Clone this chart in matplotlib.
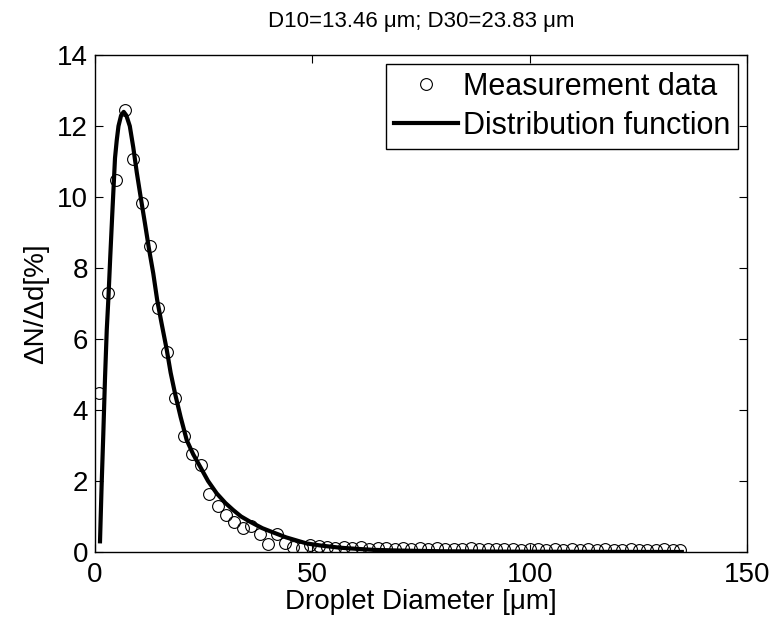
import matplotlib
matplotlib.use("Agg")
import matplotlib.pyplot as plt

plt.rcParams['font.family'] = ['Liberation Sans', 'DejaVu Sans']

meas_d = [1.0, 3.0, 4.9, 6.9, 8.8, 10.7, 12.7, 14.6, 16.6, 18.5,
          20.4, 22.4, 24.3, 26.2, 28.2, 30.1, 32.0, 34.0, 35.9, 37.9,
          39.8, 41.8, 43.7, 45.6, 47.6, 49.5, 51.5, 53.4, 55.3, 57.3,
          59.2, 61.2, 63.1, 65.0, 67.0, 68.9, 70.9, 72.8, 74.7, 76.7,
          78.6, 80.6, 82.5, 84.4, 86.4, 88.3, 90.3, 92.2, 94.1, 96.1,
          98.0, 100.0, 101.9, 103.8, 105.8, 107.7, 109.7, 111.6, 113.5, 115.5,
          117.4, 119.4, 121.3, 123.2, 125.2, 127.1, 129.1, 131.0, 132.9, 134.6]
meas_n = [4.47, 7.30, 10.48, 12.45, 11.07, 9.82, 8.63, 6.86, 5.64, 4.33,
          3.28, 2.76, 2.45, 1.64, 1.29, 1.03, 0.85, 0.68, 0.73, 0.52,
          0.22, 0.52, 0.24, 0.15, 0.12, 0.20, 0.17, 0.14, 0.12, 0.15,
          0.10, 0.13, 0.09, 0.12, 0.10, 0.08, 0.11, 0.09, 0.10, 0.08,
          0.10, 0.07, 0.09, 0.08, 0.10, 0.07, 0.08, 0.09, 0.07, 0.08,
          0.06, 0.08, 0.07, 0.06, 0.08, 0.06, 0.07, 0.06, 0.07, 0.05,
          0.07, 0.06, 0.05, 0.07, 0.06, 0.05, 0.06, 0.07, 0.05, 0.05]

# fitted distribution function
fit_d = [1.15, 1.5, 1.9, 2.3, 2.7, 3.1, 3.5, 4.0, 4.6, 5.0,
         5.4, 6.0, 6.6, 7.2, 8.0, 8.8, 9.6, 10.5, 11.5, 12.4,
         13.4, 14.3, 15.3, 16.5, 17.4, 18.4, 19.7, 21.1, 22.6, 24.2,
         26.0, 28.0, 30.0, 31.8, 33.6, 35.7, 38.5, 41.0, 44.0, 48.7,
         52.0, 56.4, 60.0, 64.0, 70.0, 80.0, 95.0, 110.0, 135.0]
fit_n = [0.30, 1.8, 3.3, 4.9, 6.25, 7.2, 8.3, 9.6, 11.1, 11.6,
         12.0, 12.3, 12.4, 12.3, 12.0, 11.4, 10.7, 10.0, 9.25, 8.55,
         7.85, 7.1, 6.45, 5.7, 5.05, 4.47, 3.8, 3.15, 2.75, 2.4,
         2.0, 1.65, 1.38, 1.18, 1.0, 0.85, 0.67, 0.55, 0.41, 0.24,
         0.18, 0.12, 0.09, 0.06, 0.04, 0.02, 0.01, 0.005, 0.0]

fig = plt.figure(figsize=(7.75, 6.33), dpi=100)
ax = fig.add_axes([0.1226, 0.128, 0.8413, 0.785])

ax.plot(meas_d, meas_n, 'o', mfc='none', mec='black', ms=8.5, mew=0.8,
        label='Measurement data')
ax.plot(fit_d, fit_n, '-', color='black', lw=3, label='Distribution function')

ax.set_xlim(0, 150)
ax.set_ylim(0, 14)
ax.set_xticks([0, 50, 100, 150])
ax.set_yticks(range(0, 15, 2))
ax.tick_params(direction='in', top=True, right=True, labelsize=20, length=6)
ax.tick_params(axis='x', pad=7)
ax.tick_params(axis='y', pad=5)
for s in ax.spines.values():
    s.set_linewidth(1.0)

ax.set_xlabel('Droplet Diameter [μm]', fontsize=20, labelpad=1)
ax.set_ylabel('ΔN/Δd[%]', fontsize=20, labelpad=6)
ax.set_title('D10=13.46 μm; D30=23.83 μm', fontsize=16, pad=20)

leg = ax.legend(loc='upper right', fontsize=22, fancybox=False, edgecolor='black',
                framealpha=1, borderaxespad=0.3, handlelength=2.1, handletextpad=0.15,
                borderpad=0.25, labelspacing=0.3)
leg.get_frame().set_linewidth(1.0)

fig.savefig('out.png', dpi=100)
